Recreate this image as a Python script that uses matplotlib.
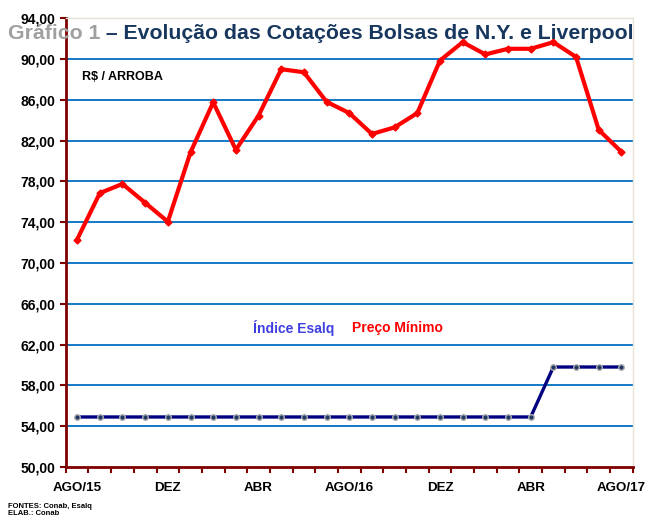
import matplotlib.pyplot as plt
import numpy as np

# dados (AGO/15 a AGO/17)
meses = ['AGO/15', 'SET', 'OUT', 'NOV', 'DEZ', 'JAN', 'FEV', 'MAR', 'ABR', 'MAI', 'JUN', 'JUL',
         'AGO/16', 'SET', 'OUT', 'NOV', 'DEZ', 'JAN', 'FEV', 'MAR', 'ABR', 'MAI', 'JUN', 'JUL', 'AGO/17']
esalq = [72.3, 76.85, 77.75, 75.9, 74.05, 80.85, 85.75, 81.1, 84.45, 89.0, 88.7, 85.8,
         84.7, 82.65, 83.3, 84.7, 89.85, 91.65, 90.45, 91.0, 91.0, 91.65, 90.2, 83.05, 80.9]
preco_min = [54.9] * 21 + [59.8] * 4
rotulos_x = {0: 'AGO/15', 4: 'DEZ', 8: 'ABR', 12: 'AGO/16', 16: 'DEZ', 20: 'ABR', 24: 'AGO/17'}
y_ticks = np.arange(50, 95, 4)

plt.rcParams['font.family'] = ['Liberation Sans', 'DejaVu Sans']

fig = plt.figure(figsize=(6.45, 5.2), dpi=100)
ax = fig.add_axes([0.102, 0.102, 0.879, 0.863])

x = np.arange(len(meses))
ax.plot(x, preco_min, color='#000080', lw=2.4, marker='o', ms=4,
        mfc='#1F3864', mec='#B0B0B0', mew=1, zorder=3)
ax.plot(x, esalq, color='#FF0000', lw=3, marker='D', ms=3.5,
        mfc='#FF0000', mec='#FF0000', zorder=4)

ax.set_xlim(-0.5, len(meses) - 0.5)
ax.set_ylim(50, 94)

# grade horizontal azul
for v in y_ticks[1:]:
    ax.axhline(v, color='#0070C0', lw=1.3, zorder=1)

ax.set_yticks(y_ticks)
ax.set_yticklabels([f'{v:.2f}'.replace('.', ',') for v in y_ticks],
                   fontsize=10, fontweight='bold')
ax.set_xticks(np.arange(-0.5, len(meses), 1))
ax.set_xticklabels([])
ax.set_xticks(list(rotulos_x.keys()), minor=True)
ax.set_xticklabels(list(rotulos_x.values()), minor=True, fontsize=9.6, fontweight='bold')
ax.tick_params(axis='x', which='minor', length=0, pad=11)
ax.tick_params(axis='both', which='major', color='#800000', width=1.5, length=4)

for s in ['left', 'bottom']:
    ax.spines[s].set_color('#800000')
    ax.spines[s].set_linewidth(2)
for s in ['right', 'top']:
    ax.spines[s].set_color('#E6E2D6')
    ax.spines[s].set_linewidth(1)

ax.text(0.028, 0.869, 'R$ / ARROBA', transform=ax.transAxes, fontsize=9,
        fontweight='bold', color='black', va='center')
ax.text(0.33, 0.31, 'Índice Esalq', transform=ax.transAxes, fontsize=10,
        fontweight='bold', color='#3F3FE0', va='center')
ax.text(0.505, 0.31, 'Preço Mínimo', transform=ax.transAxes, fontsize=10,
        fontweight='bold', color='#FF0000', va='center')

# título sobre a área do gráfico
t1 = fig.text(0.012, 0.935, 'Gráfico 1', fontsize=15.3, fontweight='bold',
              color='#A0A0A0', va='center')
fig.canvas.draw()
bb = t1.get_window_extent()
fig.text(bb.x1 / fig.bbox.width, 0.935,
         ' – Evolução das Cotações Bolsas de N.Y. e Liverpool',
         fontsize=15.3, fontweight='bold', color='#17375E', va='center')

fig.text(0.012, 0.024, 'FONTES: Conab, Esalq', fontsize=5.5, fontweight='bold')
fig.text(0.012, 0.009, 'ELAB.: Conab', fontsize=5.5, fontweight='bold')

fig.savefig('out.png', dpi=100)
